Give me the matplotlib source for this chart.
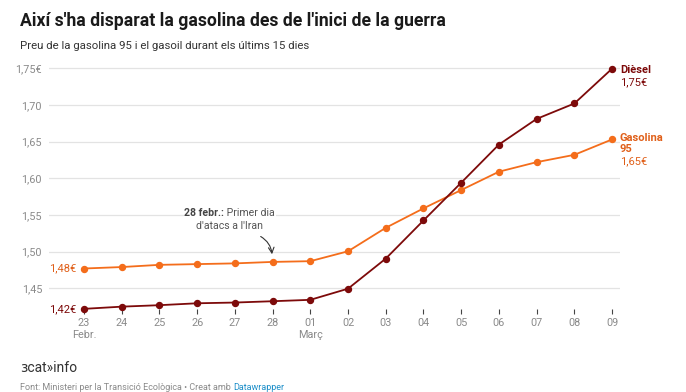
import numpy as np
import matplotlib.pyplot as plt

plt.rcParams['font.family'] = ['Roboto', 'DejaVu Sans']

days = ['23', '24', '25', '26', '27', '28', '01', '02', '03', '04', '05', '06', '07', '08', '09']
gasolina = [1.477, 1.479, 1.482, 1.483, 1.484, 1.486, 1.487, 1.5005, 1.5325, 1.559,
            1.584, 1.609, 1.622, 1.632, 1.653]
diesel = [1.422, 1.425, 1.427, 1.4296, 1.4306, 1.4324, 1.4343, 1.4495, 1.4905, 1.5425,
          1.594, 1.646, 1.681, 1.702, 1.7495]
yticks = [1.45, 1.50, 1.55, 1.60, 1.65, 1.70, 1.75]
ytick_labels = ['1,45', '1,50', '1,55', '1,60', '1,65', '1,70', '1,75€']

C_GAS = '#f46d1b'
C_GAS_TXT = '#e0601a'
C_DIE = '#7d0a0a'
GRAY = '#8a8a8a'

W, H = 686, 392
fig = plt.figure(figsize=(W / 100, H / 100), dpi=100)
ax = fig.add_axes([49 / W, (H - 309) / H, 571 / W, 246 / H])

x = np.arange(len(days))
ax.plot(x, gasolina, color=C_GAS, lw=1.3, marker='o', ms=4.3, clip_on=False, zorder=3)
ax.plot(x, diesel, color=C_DIE, lw=1.3, marker='o', ms=4.3, clip_on=False, zorder=3)

ax.set_xlim(-0.928, 14.21)
ax.set_ylim(1.4218, 1.7572)

for s in ax.spines.values():
    s.set_visible(False)
ax.set_yticks(yticks)
ax.set_yticklabels(ytick_labels)
ax.tick_params(axis='y', length=0, pad=5, labelsize=7.8, labelcolor=GRAY)
ax.grid(axis='y', color='#e3e3e3', lw=0.9)
ax.set_axisbelow(True)

ax.set_xticks(x)
ax.set_xticklabels([d + ('\nFebr.' if i == 0 else '\nMarç' if d == '01' else '') for i, d in enumerate(days)],
                   va='top', linespacing=1.25)
ax.tick_params(axis='x', length=3.5, width=0.8, color='#444444', pad=3, labelsize=7.8, labelcolor=GRAY)

# start labels
ax.text(-0.2, gasolina[0], '1,48€', color=C_GAS_TXT, fontsize=8, ha='right', va='center')
ax.text(-0.2, diesel[0], '1,42€', color=C_DIE, fontsize=8, ha='right', va='center')

# end labels
ax.text(14.21, 1.7475, 'Dièsel', color=C_DIE, fontsize=8, fontweight='bold', ha='left', va='center')
ax.text(14.21, 1.7315, '1,75€', color=C_DIE, fontsize=8, ha='left', va='center')
ax.text(14.21, 1.6555, 'Gasolina', color=C_GAS_TXT, fontsize=8, fontweight='bold', ha='left', va='center')
ax.text(14.21, 1.6395, '95', color=C_GAS_TXT, fontsize=8, fontweight='bold', ha='left', va='center')
ax.text(14.21, 1.6235, '1,65€', color=C_GAS_TXT, fontsize=8, ha='left', va='center')

# annotation
bb = dict(facecolor='white', edgecolor='none', pad=0.5)
ax.text(3.72, 1.5527, '28 febr.:', color='#444444', fontsize=7.6, fontweight='bold',
        ha='right', va='center', bbox=bb, zorder=4)
ax.text(3.72, 1.5527, ' Primer dia', color='#555555', fontsize=7.6,
        ha='left', va='center', bbox=bb, zorder=4)
ax.text(3.85, 1.5345, "d'atacs a l'Iran", color='#555555', fontsize=7.6,
        ha='center', va='center', bbox=bb, zorder=4)
ax.annotate('', xy=(4.99, 1.4927), xytext=(4.62, 1.5225),
            arrowprops=dict(arrowstyle='->', color='#333333', lw=0.8,
                            connectionstyle='arc3,rad=-0.3'))

# header
fig.text(20 / W, 1 - 21 / H, "Així s'ha disparat la gasolina des de l'inici de la guerra",
         fontsize=12.7, fontweight='bold', color='#1a1a1a', va='center')
fig.text(20 / W, 1 - 46 / H, 'Preu de la gasolina 95 i el gasoil durant els últims 15 dies',
         fontsize=8.2, color='#333333', va='center')

# footer
fig.text(20 / W, 1 - 368 / H, 'ɜcat»info', fontsize=10, color='#333333', va='center')
t = fig.text(20 / W, 1 - 387 / H, 'Font: Ministeri per la Transició Ecològica • Creat amb ',
             fontsize=6.5, color=GRAY, va='center')
fig.canvas.draw()
bbox = t.get_window_extent()
fig.text(bbox.x1 / W, 1 - 387 / H, 'Datawrapper', fontsize=6.5, color='#1d8fc9', va='center')

fig.savefig('out.png', dpi=100)
